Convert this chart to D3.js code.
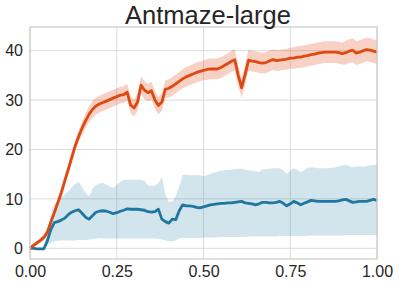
<!DOCTYPE html>
<html><head><meta charset="utf-8">
<script src="https://cdn.jsdelivr.net/npm/d3@7"></script>
<style>body{margin:0;background:#fff}svg{display:block}</style>
</head><body>
<svg id="c" width="399" height="286"></svg>
<script>
const title = "Antmaze-large";
const steps = d3.range(101).map(i => i / 100);
const orangeMean = [0.0,0.6,1.1,1.6,2.2,3.3,5.3,7.2,9.2,11.2,
13.6,15.9,18.3,20.7,22.6,24.3,25.8,27.1,28.1,28.8,
29.2,29.5,29.8,30.1,30.4,30.7,31.0,31.1,31.6,29.0,
28.4,29.6,33.0,32.0,31.5,31.9,30.0,28.9,29.6,32.2,
32.4,32.8,33.3,33.8,34.3,34.7,35.0,35.3,35.6,35.8,
36.0,36.2,36.3,36.3,36.3,36.6,37.0,37.4,37.8,38.2,
35.0,32.5,35.2,38.1,37.9,37.8,37.6,37.5,37.6,37.9,
38.2,38.0,38.1,38.2,38.3,38.5,38.5,38.7,38.7,38.9,
39.0,39.2,39.3,39.5,39.6,39.7,39.7,39.7,39.7,39.6,
39.4,39.6,39.9,40.1,39.5,39.7,40.0,40.2,40.1,39.9,39.7];
const orangeStd = [0.2,0.4,0.5,0.5,0.6,0.6,0.7,0.8,0.9,1.0,
1.0,1.0,1.0,1.1,1.2,1.3,1.5,1.6,1.7,1.7,
1.7,1.7,1.7,1.7,1.7,1.7,1.7,1.7,1.7,1.7,
1.7,1.8,1.8,1.8,1.8,1.8,1.8,1.8,1.8,1.8,
1.8,1.9,1.9,1.9,1.9,2.0,2.0,2.0,2.0,2.0,
2.0,2.1,2.1,2.1,2.1,2.1,2.1,2.1,2.1,2.2,
2.1,2.0,2.1,2.1,2.1,2.1,2.1,2.1,2.1,2.1,
2.1,2.1,2.1,2.1,2.1,2.1,2.2,2.2,2.2,2.2,
2.2,2.2,2.2,2.2,2.2,2.2,2.2,2.2,2.2,2.2,
2.2,2.4,2.4,2.4,2.4,2.4,2.4,2.4,2.4,2.4,2.4];
const blueMean = [0.0,0.0,-0.1,-0.1,-0.1,1.5,3.8,5.2,5.4,5.7,
6.1,6.8,7.3,7.6,7.8,7.1,6.3,5.9,6.6,7.3,
7.5,7.6,7.5,7.3,7.0,7.2,7.5,7.7,8.0,7.9,
7.9,7.9,7.8,7.7,7.4,7.3,7.4,7.9,5.9,5.4,
5.1,5.9,5.8,7.6,8.8,8.6,8.6,8.5,8.3,8.2,
8.4,8.6,8.8,8.9,9.0,9.1,9.1,9.2,9.2,9.3,
9.4,9.5,9.2,9.1,9.0,8.8,9.0,9.3,9.3,9.2,
9.2,9.3,9.5,9.1,8.6,9.0,9.5,9.2,8.8,9.1,
9.4,9.7,9.6,9.5,9.5,9.5,9.5,9.5,9.5,9.6,
9.8,9.9,9.6,9.3,9.4,9.5,9.5,9.5,9.7,9.9,9.7];
const blueHi = [0.0,0.0,0.0,0.0,0.0,3.5,7.0,8.8,9.6,10.3,
10.9,11.5,12.3,13.0,13.4,12.4,11.2,10.5,12.0,12.8,
13.1,13.2,12.9,12.5,12.2,12.8,13.4,13.8,13.9,13.9,
13.9,13.9,13.9,13.6,12.7,12.6,12.7,13.2,14.4,11.0,
9.3,9.4,10.5,12.5,14.9,14.9,14.8,14.8,14.8,14.8,
14.6,14.8,15.1,15.3,15.5,15.7,15.8,15.9,15.9,16.0,
16.1,16.1,15.9,15.8,15.7,15.6,15.4,16.0,16.0,16.1,
16.2,16.2,16.2,15.8,15.1,15.6,16.2,15.9,15.4,15.8,
16.3,16.4,16.3,16.2,16.2,16.2,16.2,16.3,16.4,16.6,
16.8,16.9,16.6,16.4,16.5,16.6,16.5,16.6,16.8,16.9,16.8];
const blueLo = [0.0,0.0,-0.1,-0.1,-0.1,0.5,1.1,1.4,1.5,1.6,
1.6,1.6,1.6,1.6,1.7,1.7,1.7,1.8,1.9,2.0,
2.1,2.0,2.0,2.0,2.0,2.0,2.0,2.0,2.0,2.0,
2.0,2.0,2.0,2.0,2.0,2.0,2.0,1.9,1.8,1.6,
1.4,1.4,1.6,2.0,2.1,2.1,2.1,2.1,2.1,2.1,
2.2,2.2,2.2,2.2,2.2,2.3,2.3,2.3,2.3,2.3,
2.3,2.3,2.3,2.4,2.4,2.4,2.4,2.4,2.4,2.4,
2.4,2.4,2.5,2.5,2.5,2.5,2.5,2.5,2.5,2.5,
2.5,2.6,2.6,2.6,2.6,2.6,2.6,2.6,2.6,2.6,
2.6,2.7,2.7,2.7,2.7,2.7,2.7,2.7,2.7,2.7,2.7];
const xTicks = [0, 0.25, 0.5, 0.75, 1.0];
const yTicks = [0, 10, 20, 30, 40];

const svg = d3.select("#c");
const L = 30, R = 377, T = 27, B = 259;
const x = d3.scaleLinear().domain([0, 1]).range([L, R]);
const y = d3.scaleLinear().domain([-2.17, 44.8]).range([B, T]);

// grid
const g = svg.append("g");
g.selectAll(".gx").data(xTicks).join("line")
  .attr("x1", d => x(d)).attr("x2", d => x(d)).attr("y1", T).attr("y2", B)
  .attr("stroke", "#dcdcdc").attr("stroke-width", 1);
g.selectAll(".gy").data(yTicks).join("line")
  .attr("y1", d => y(d)).attr("y2", d => y(d)).attr("x1", L).attr("x2", R)
  .attr("stroke", "#dcdcdc").attr("stroke-width", 1);

const idx = d3.range(steps.length);
const area = (lo, hi) => d3.area().x(i => x(steps[i])).y0(i => y(lo(i))).y1(i => y(hi(i)));
const line = (f) => d3.line().x(i => x(steps[i])).y(i => y(f(i)));

const blue = "rgb(31,119,160)", orange = "rgb(223,72,16)";
svg.append("path").datum(idx).attr("d", area(i => blueLo[i], i => blueHi[i]))
  .attr("fill", blue).attr("fill-opacity", 0.2);
svg.append("path").datum(idx).attr("d", area(i => orangeMean[i] - orangeStd[i], i => orangeMean[i] + orangeStd[i]))
  .attr("fill", orange).attr("fill-opacity", 0.25);
svg.append("path").datum(idx).attr("d", line(i => blueMean[i]))
  .attr("fill", "none").attr("stroke", blue).attr("stroke-width", 2.8).attr("stroke-linejoin", "round");
svg.append("path").datum(idx).attr("d", line(i => orangeMean[i]))
  .attr("fill", "none").attr("stroke", orange).attr("stroke-width", 2.8).attr("stroke-linejoin", "round");

// spines
svg.append("rect").attr("x", L).attr("y", T).attr("width", R - L).attr("height", B - T)
  .attr("fill", "none").attr("stroke", "#cccccc").attr("stroke-width", 1.25);

// axes
const xAxis = d3.axisBottom(x).tickValues(xTicks).tickFormat(d3.format(".2f")).tickSize(0).tickPadding(7);
const yAxis = d3.axisLeft(y).tickValues(yTicks).tickFormat(d3.format("d")).tickSize(0).tickPadding(7);
const ax = svg.append("g").attr("transform", `translate(0,${B})`).call(xAxis);
const ay = svg.append("g").attr("transform", `translate(${L},0)`).call(yAxis);
[ax, ay].forEach(a => {
  a.select(".domain").remove();
  a.selectAll("text").attr("font-family", "Liberation Sans, Arial, sans-serif")
    .attr("font-size", 16).attr("fill", "#262626");
});

svg.append("text").attr("x", 208).attr("y", 23.5).attr("text-anchor", "middle")
  .attr("font-family", "Liberation Sans, Arial, sans-serif").attr("font-size", 25.5)
  .attr("fill", "#262626").text(title);
</script>
</body></html>
